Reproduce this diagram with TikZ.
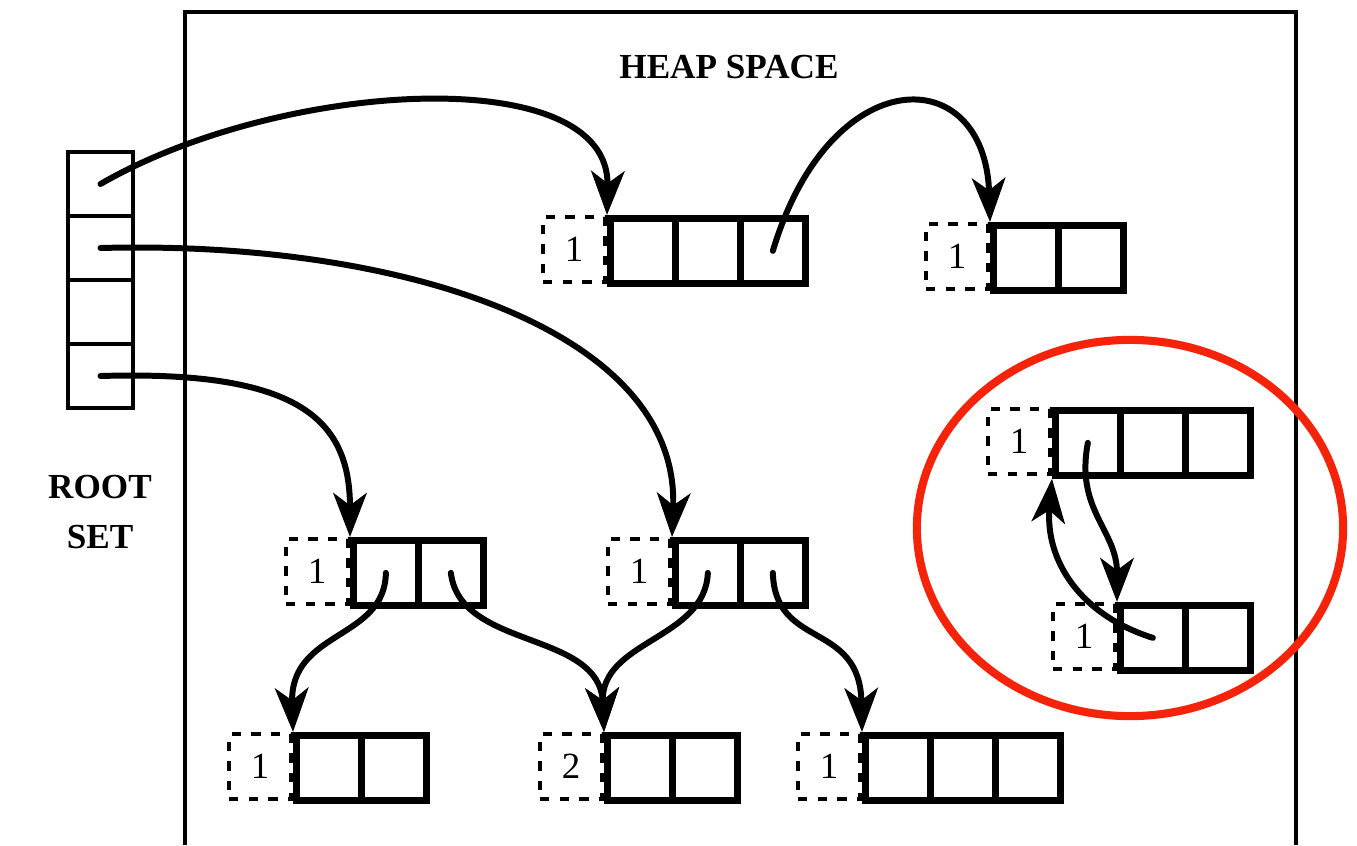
\documentclass[tikz,border=0pt]{standalone}
\usepackage{fontspec}
\setmainfont{Liberation Serif}
\usetikzlibrary{arrows.meta}
\definecolor{ringred}{RGB}{245,35,10}
\tikzset{
  cellbox/.style={draw, line width=1.9pt, minimum width=0.65cm, minimum height=0.65cm, inner sep=0pt, anchor=north west},
  countbox/.style={draw, dashed, dash pattern=on 2.6pt off 3pt, line width=1.1pt, minimum width=0.62cm, minimum height=0.65cm, inner sep=0pt, anchor=north east, font=\fontsize{10.5}{12}\selectfont},
  rootcell/.style={draw, line width=1.3pt, minimum width=0.65cm, minimum height=0.64cm, inner sep=0pt},
  ptr/.style={line width=1.7pt, line cap=round, -{Stealth[length=12.5pt, width=9.5pt, inset=3.5pt]}},
  title/.style={font=\fontsize{10}{12}\selectfont\bfseries, align=center},
  frame/.style={line width=0.9pt},
  ring/.style={draw=ringred, line width=2.3pt}
}
\newcommand\heapobj[5]{%
  \node[countbox] (#1-n) at (#2,#3) {#5};
  \foreach \i in {1,...,#4} {
    \node[cellbox] (#1-\i) at ({#2+65*(\i-1)},#3) {};
  }
}
\begin{document}
\begin{tikzpicture}[x=0.01cm, y=-0.01cm]
\useasboundingbox (0,0) rectangle (1357,845);
% heap frame
\draw[frame] (185,845) -- (185,12) -- (1296,12) -- (1296,845);
\node[title] (heap) at (729,67) {HEAP SPACE};
% root set
\node[rootcell] (r1) at (100.5,184) {};
\node[rootcell] (r2) at (100.5,248) {};
\node[rootcell] (r3) at (100.5,312) {};
\node[rootcell] (r4) at (100.5,376) {};
\node[title] (rootlbl) at (100,512) {ROOT\\[2pt]SET};
% heap objects
\heapobj{A}{607}{215}{3}{1}
\heapobj{B}{990}{222}{2}{1}
\heapobj{C}{1052}{407}{3}{1}
\heapobj{D}{1117}{602}{2}{1}
\heapobj{E}{350}{537}{2}{1}
\heapobj{F}{672}{537}{2}{1}
\heapobj{G}{293}{732}{2}{1}
\heapobj{H}{604}{732}{2}{2}
\heapobj{I}{862}{732}{3}{1}
% pointers
\draw[ptr] (r1.center) .. controls (280,80) and (610,60) .. (A-1.north west);
\draw[ptr] (A-3.center) .. controls (830,60) and (985,60) .. (B-1.north west);
\draw[ptr] (r2.center) .. controls (400,240) and (680,330) .. (F-1.north west);
\draw[ptr] (r4.center) .. controls (300,370) and (350,420) .. (E-1.north west);
\draw[ptr] (E-1.center) .. controls (385,640) and (290,630) .. (G-1.north west);
\draw[ptr] (E-2.center) .. controls (460,650) and (600,630) .. (H-1.north west);
\draw[ptr] (F-1.center) .. controls (705,640) and (600,640) .. (H-1.north west);
\draw[ptr] (F-2.center) .. controls (775,650) and (860,620) .. (I-1.north west);
\draw[ptr] (C-1.center) .. controls (1075,510) and (1117,530) .. (D-1.north west);
\draw[ptr] (D-1.center) .. controls (1080,615) and (1045,560) .. (C-1.south west);
% highlight ring
\draw[ring] (1130,528) ellipse [x radius=2.13cm, y radius=1.88cm];
\end{tikzpicture}
\end{document}
